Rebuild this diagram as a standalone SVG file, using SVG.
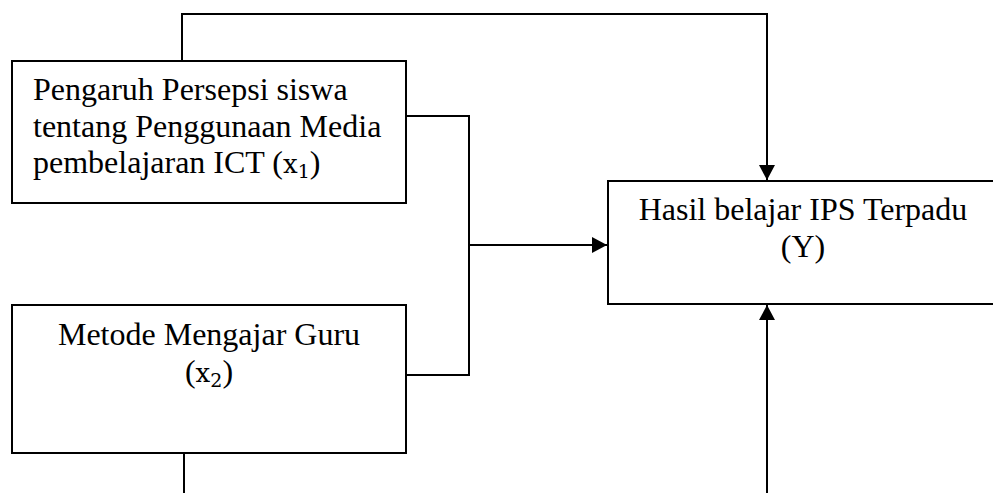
<svg xmlns="http://www.w3.org/2000/svg" width="993" height="493" viewBox="0 0 993 493">
<style>
.box{fill:#fff;stroke:#000;stroke-width:2}
.ln{fill:none;stroke:#000;stroke-width:2}
.t{font-family:"Liberation Serif","Times New Roman",serif;font-size:32px;fill:#000}
.m{font-family:"DejaVu Serif","Liberation Serif",serif;font-size:26px}
.s{font-family:"DejaVu Serif","Liberation Serif",serif;font-size:19px}
</style>
<defs>
<marker id="ah" markerUnits="userSpaceOnUse" markerWidth="16" markerHeight="16" refX="15" refY="8" orient="auto">
<path d="M0,0 L15,8 L0,16 Z" fill="#000"/>
</marker>
</defs>
<rect width="993" height="493" fill="#fff"/>
<g id="connectors">
<path class="ln" d="M182,61 V14 H767 V180" marker-end="url(#ah)"/>
<path class="ln" d="M406,116 H469 V375 H406"/>
<path class="ln" d="M469,245 H607" marker-end="url(#ah)"/>
<path class="ln" d="M184,453 V493"/>
<path class="ln" d="M767,493 V305" marker-end="url(#ah)"/>
</g>
<g id="node-x1">
<rect class="box" x="12" y="61" width="394" height="142"/>
<text class="t" x="33" y="100">Pengaruh Persepsi siswa</text>
<text class="t" x="33" y="136.5">tentang Penggunaan Media</text>
<text class="t" x="33" y="173">pembelajaran ICT (<tspan class="m">x</tspan><tspan class="s" dy="5">1</tspan><tspan dy="-5">)</tspan></text>
</g>
<g id="node-x2">
<rect class="box" x="12" y="305" width="394" height="148"/>
<text class="t" x="209" y="345" text-anchor="middle">Metode Mengajar Guru</text>
<text class="t" x="209" y="382" text-anchor="middle">(<tspan class="m">x</tspan><tspan class="s" dy="5">2</tspan><tspan dy="-5">)</tspan></text>
</g>
<g id="node-y">
<rect class="box" x="608" y="181" width="392" height="123"/>
<text class="t" x="803" y="220" text-anchor="middle">Hasil belajar IPS Terpadu</text>
<text class="t" x="803" y="257" text-anchor="middle">(Y)</text>
</g>
</svg>
